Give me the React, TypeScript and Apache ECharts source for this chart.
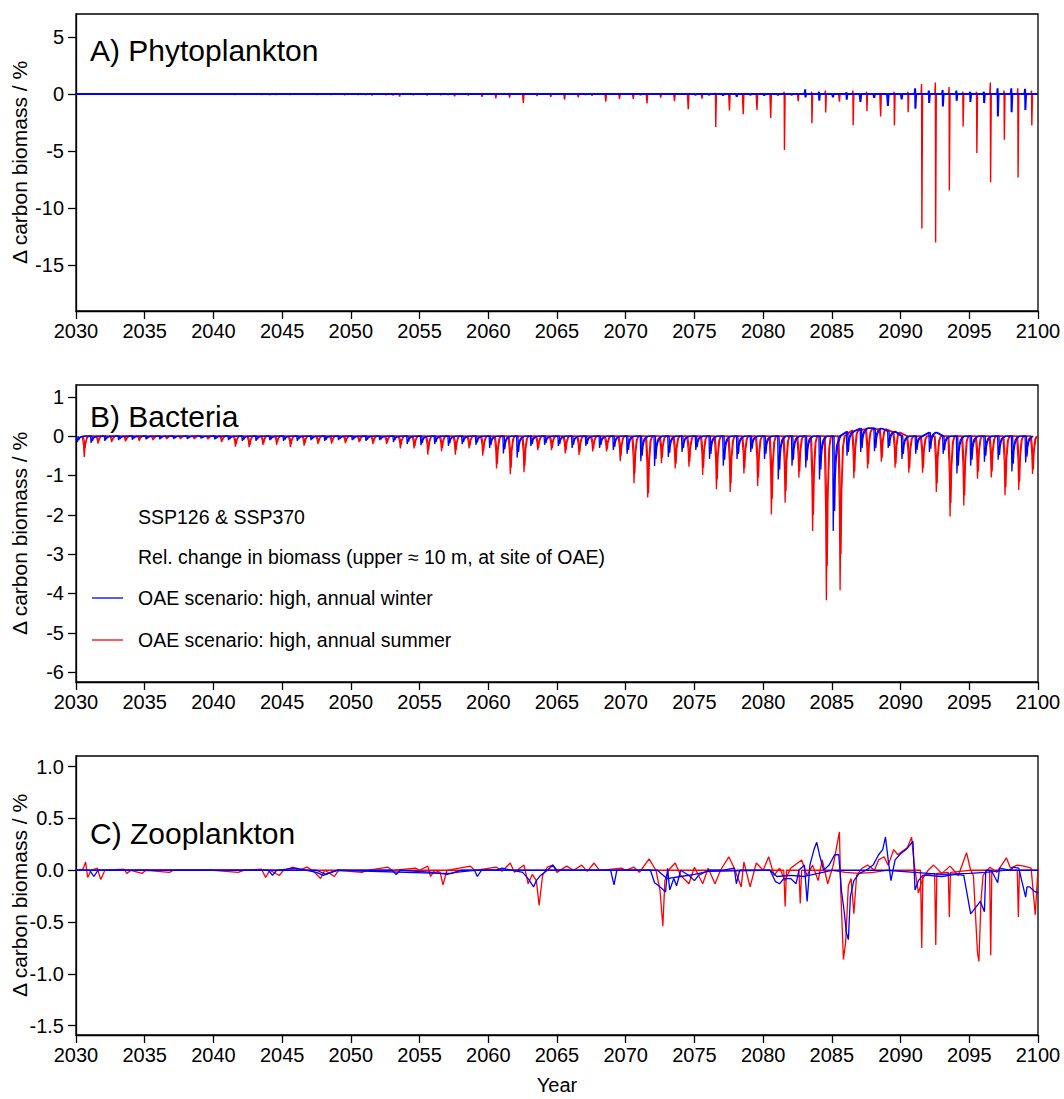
import React, { useEffect, useRef } from "react";
import * as echarts from "echarts";

const FONT = "'Liberation Sans', Arial, Helvetica, sans-serif";
const RED = "#ff0000";
const BLUE = "#0000ff";

// years with one OAE pulse each
const YEARS: number[] = [];
for (let y = 2030; y < 2100; y++) YEARS.push(y);

const X_TICKS_MIN = 2030;
const X_TICKS_MAX = 2100;

// ---------- A) Phytoplankton: annual spike minima / maxima (%) ----------
const A_RED_DIPS = [
  -0.05, -0.03, -0.04, -0.03, -0.05, -0.04, -0.03, -0.05, -0.04, -0.03,
  -0.05, -0.06, -0.05, -0.07, -0.08, -0.06, -0.05, -0.08, -0.07, -0.1,
  -0.08, -0.12, -0.1, -0.23, -0.1, -0.12, -0.1, -0.2, -0.12, -0.26,
  -0.38, -0.32, -0.78, -0.17, -0.26, -0.5, -0.29, -0.15, -0.67, -0.44,
  -0.44, -0.84, -0.32, -0.64, -1.34, -0.4, -2.9, -1.45, -1.77, -1.4,
  -2.1, -4.9, -0.64, -2.56, -1.63, -0.67, -2.73, -1.5, -1.98, -2.76,
  -1.6, -11.77, -13.0, -8.46, -2.85, -5.17, -7.73, -4.0, -7.32, -2.76,
];
const A_RED_PEAKS = [
  0, 0, 0, 0, 0, 0, 0, 0, 0, 0,
  0, 0, 0, 0, 0, 0, 0, 0, 0, 0,
  0, 0, 0, 0, 0, 0, 0, 0, 0, 0,
  0, 0, 0, 0, 0, 0, 0, 0, 0, 0,
  0, 0, 0, 0, 0, 0, 0.1, 0, 0, 0,
  0, 0.2, 0, 0.2, 0.3, 0, 0.3, 0.2, 0, 0.2,
  0.2, 0.87, 1.0, 0.6, 0.2, 0.2, 1.0, 0.3, 0.5, 0.3,
];
const A_BLUE_DIPS = [
  0, 0, 0, 0, 0, 0, 0, 0, 0, 0,
  0, 0, 0, 0, -0.05, 0, 0, 0, 0, 0,
  0, -0.05, 0, -0.08, 0, 0, 0, -0.05, 0, 0,
  0, 0, 0, 0, 0, 0, 0, -0.05, 0, 0,
  0, -0.08, 0, 0, 0, -0.1, -0.1, -0.15, -0.25, -0.1,
  -0.15, -0.12, -0.1, -0.3, -0.58, -0.3, -0.5, -0.7, -0.33, -1.05,
  -0.47, -1.3, -0.78, -1.1, -0.6, -0.7, -0.8, -1.98, -1.6, -1.4,
];
const A_BLUE_PEAKS = [
  0, 0, 0, 0, 0, 0, 0, 0, 0, 0,
  0, 0, 0, 0, 0, 0, 0, 0, 0, 0,
  0, 0, 0, 0, 0, 0, 0, 0, 0, 0,
  0, 0, 0, 0, 0, 0, 0, 0, 0, 0,
  0, 0, 0, 0, 0, 0, 0, 0, 0, 0,
  0, 0, 0, 0.4, 0.2, 0, 0.15, 0, 0, 0,
  0, 0.5, 0.3, 0.35, 0.3, 0.2, 0.2, 0.5, 0.5, 0.45,
];

// ---------- B) Bacteria: annual dip minima (%) ----------
const B_RED_1 = [
  -0.53, -0.19, -0.15, -0.13, -0.12, -0.1, -0.07, -0.07, -0.07, -0.08,
  -0.15, -0.27, -0.28, -0.22, -0.22, -0.28, -0.24, -0.2, -0.19, -0.18,
  -0.15, -0.2, -0.2, -0.31, -0.31, -0.47, -0.38, -0.47, -0.31, -0.5,
  -0.82, -0.97, -0.92, -0.36, -0.36, -0.44, -0.48, -0.39, -0.39, -0.64,
  -1.2, -1.56, -0.69, -0.82, -0.78, -0.99, -1.35, -1.42, -0.95, -1.27,
  -1.99, -1.69, -1.06, -2.41, -4.17, -3.92, -1.07, -0.82, -0.65, -0.8,
  -0.93, -0.93, -1.42, -2.04, -1.76, -1.08, -1.05, -1.5, -1.37, -0.96,
];
const B_RED_2 = [
  -0.3, -0.12, -0.1, -0.1, -0.08, -0.07, -0.06, -0.05, -0.06, -0.06,
  -0.1, -0.2, -0.22, -0.18, -0.15, -0.2, -0.18, -0.15, -0.14, -0.13,
  -0.12, -0.15, -0.16, -0.22, -0.25, -0.35, -0.3, -0.35, -0.25, -0.38,
  -0.7, -0.8, -0.75, -0.3, -0.3, -0.35, -0.4, -0.32, -0.33, -0.5,
  -0.95, -1.45, -0.55, -0.7, -0.65, -0.8, -1.1, -1.2, -0.8, -1.05,
  -1.6, -1.4, -0.9, -2.0, -3.3, -3.0, -0.9, -0.7, -0.55, -0.7,
  -0.8, -0.8, -1.2, -1.7, -1.5, -0.9, -0.9, -1.3, -1.15, -0.85,
];
const B_BLUE_1 = [
  -0.15, -0.17, -0.12, -0.1, -0.09, -0.08, -0.08, -0.07, -0.07, -0.06,
  -0.08, -0.1, -0.12, -0.12, -0.1, -0.12, -0.12, -0.1, -0.12, -0.1,
  -0.1, -0.12, -0.1, -0.15, -0.2, -0.23, -0.2, -0.25, -0.2, -0.22,
  -0.3, -0.44, -0.55, -0.25, -0.22, -0.25, -0.3, -0.25, -0.3, -0.35,
  -0.45, -0.64, -0.76, -0.53, -0.4, -0.35, -0.58, -0.75, -0.58, -0.4,
  -0.58, -1.1, -0.75, -0.8, -1.1, -2.41, -0.5, -0.4, -0.38, -0.3,
  -0.58, -0.45, -0.4, -0.45, -0.95, -0.75, -0.65, -0.6, -0.9, -0.67,
];
const B_BLUE_2 = [
  -0.1, -0.12, -0.08, -0.07, -0.06, -0.06, -0.05, -0.05, -0.05, -0.04,
  -0.06, -0.07, -0.09, -0.08, -0.08, -0.09, -0.08, -0.07, -0.09, -0.07,
  -0.08, -0.09, -0.08, -0.1, -0.14, -0.17, -0.15, -0.18, -0.15, -0.16,
  -0.22, -0.33, -0.4, -0.2, -0.17, -0.2, -0.22, -0.2, -0.22, -0.27,
  -0.35, -0.5, -0.58, -0.42, -0.3, -0.28, -0.45, -0.6, -0.45, -0.32,
  -0.45, -0.85, -0.6, -0.62, -0.85, -1.9, -0.4, -0.3, -0.3, -0.25,
  -0.45, -0.35, -0.32, -0.36, -0.75, -0.6, -0.5, -0.48, -0.7, -0.52,
];
// raised background level in some years (%)
const B_RED_BASE: Record<number, number> = { 2086: 0.15, 2087: 0.18, 2088: 0.18, 2089: 0.1 };
const B_BLUE_BASE: Record<number, number> = { 2086: 0.12, 2087: 0.2, 2088: 0.2, 2089: 0.12, 2092: 0.1 };

// dip profile: [time offset in years, fraction of the dip]
const RED_DIP_PROFILE = [[-0.15, 0], [-0.05, 0.45], [0, 1], [0.06, 0.45], [0.18, 0.08], [0.3, 0]];
const BLUE_DIP_PROFILE = [[-0.04, 0], [0, 1], [0.05, 0.55], [0.12, 0.3], [0.25, 0.1], [0.45, 0]];

// ---------- C) Zooplankton: [year, %] ----------
const C_RED_A: number[][] = [
  [2030.0, 0.0], [2030.5, 0.01], [2030.7, 0.08], [2030.85, -0.07], [2031.1, 0.0], [2031.55, 0.02], [2031.8, -0.09], [2032.1, 0.0],
  [2033.5, 0.01], [2033.7, -0.03], [2034.0, 0.0], [2034.8, -0.03], [2035.1, 0.0], [2036.8, -0.02], [2037.1, 0.0], [2040.0, 0.0],
  [2041.8, -0.02], [2042.2, 0.0], [2043.5, 0.01], [2043.8, -0.07], [2044.1, 0.0], [2044.8, -0.05], [2045.1, 0.0], [2045.8, 0.03],
  [2046.2, 0.0], [2046.8, 0.03], [2047.2, 0.0], [2047.8, -0.08], [2048.1, 0.0], [2048.8, -0.06], [2049.1, 0.0], [2050.8, -0.02],
  [2051.2, 0.0], [2052.7, 0.03], [2053.0, 0.0], [2054.7, 0.02], [2055.0, 0.0], [2055.6, 0.04], [2055.8, -0.06], [2056.1, 0.0],
  [2056.5, -0.02], [2056.7, -0.14], [2057.0, 0.0], [2058.7, 0.04], [2059.0, 0.0], [2060.6, 0.03], [2061.0, -0.01], [2061.6, 0.07],
  [2061.9, -0.02], [2062.6, 0.05], [2062.9, -0.13], [2063.2, -0.04], [2063.5, -0.1], [2063.7, -0.34], [2063.95, -0.05], [2064.3, 0.03],
  [2064.7, 0.05], [2065.0, -0.02], [2065.7, 0.04], [2066.2, 0.0], [2066.8, 0.05], [2067.2, -0.01], [2067.7, 0.07], [2068.1, 0.0],
  [2069.7, 0.02], [2070.0, 0.0], [2070.6, 0.03], [2071.0, -0.02], [2071.7, 0.11], [2072.2, 0.0], [2072.5, -0.2], [2072.7, -0.54],
  [2072.85, -0.1], [2073.1, 0.0], [2073.6, 0.07], [2074.0, -0.05], [2074.6, -0.13], [2075.0, 0.03], [2075.6, -0.13], [2076.0, 0.02],
  [2076.5, -0.13], [2076.9, 0.0], [2077.5, 0.13], [2077.9, 0.02], [2078.4, -0.16], [2078.6, 0.08], [2079.05, -0.16], [2079.5, 0.07],
  [2080.0, 0.0], [2080.4, 0.13], [2080.8, -0.05], [2081.2, 0.02], [2081.6, -0.1], [2082.0, 0.02], [2082.8, 0.1], [2083.2, -0.05],
  [2083.6, 0.05], [2084.0, -0.1], [2084.3, 0.1], [2084.7, -0.13], [2085.1, 0.05], [2085.55, 0.37], [2085.65, -0.2], [2085.84, -0.86],
  [2086.0, -0.7], [2086.2, -0.15], [2086.4, -0.08], [2086.6, -0.42], [2086.8, -0.05], [2087.2, 0.02], [2087.6, 0.05], [2088.1, 0.0],
  [2088.4, 0.1], [2088.8, 0.13], [2089.1, 0.05], [2089.5, 0.2], [2089.8, 0.15], [2090.1, 0.18], [2090.5, 0.22], [2090.8, 0.32],
  [2091.0, 0.05], [2091.3, -0.22], [2091.6, -0.08], [2092.0, 0.0], [2092.4, 0.05], [2093.0, -0.03], [2093.6, 0.04], [2094.2, -0.05],
  [2094.8, 0.17], [2095.1, 0.0], [2095.3, -0.05], [2095.6, -0.8], [2095.7, -0.88], [2095.85, -0.3], [2096.0, -0.05], [2096.5, 0.03],
  [2097.0, -0.02], [2097.7, 0.12], [2098.0, 0.02], [2098.5, 0.05], [2099.0, 0.04], [2099.5, 0.02], [2099.8, -0.43], [2100.0, 0.02],
];
const C_RED_B: number[][] = [
  [2030.0, 0.0], [2050.0, 0.0], [2065.0, 0.0], [2079.0, 0.0], [2081.5, 0.0], [2081.6, -0.35], [2081.7, 0.0], [2082.6, 0.0],
  [2082.7, -0.32], [2082.8, 0.0], [2085.0, 0.0], [2086.0, -0.02], [2087.0, -0.03], [2088.0, -0.02], [2089.0, 0.0], [2091.45, 0.0],
  [2091.54, -0.75], [2091.62, -0.05], [2092.48, -0.03], [2092.56, -0.72], [2092.64, -0.03], [2093.47, -0.02], [2093.55, -0.45],
  [2093.63, -0.02], [2095.0, 0.0], [2096.48, 0.0], [2096.56, -0.82], [2096.64, 0.0], [2098.49, 0.0], [2098.57, -0.45],
  [2098.65, 0.0], [2100.0, 0.0],
];
const C_BLUE_A: number[][] = [
  [2030.0, 0.0], [2031.0, 0.0], [2031.3, -0.06], [2031.6, 0.0], [2044.0, 0.0], [2044.3, -0.05], [2044.6, 0.0], [2046.0, 0.02],
  [2047.5, -0.02], [2048.0, -0.05], [2048.5, -0.02], [2049.0, 0.0], [2053.0, 0.0], [2053.3, -0.04], [2053.6, 0.0], [2056.0, -0.02],
  [2057.0, -0.04], [2057.6, -0.02], [2059.0, 0.0], [2059.2, -0.06], [2059.5, 0.0], [2060.5, 0.0], [2061.0, 0.02], [2062.5, -0.02],
  [2062.9, -0.08], [2063.3, -0.16], [2063.5, -0.1], [2063.8, -0.05], [2064.3, 0.0], [2064.7, 0.05], [2065.0, 0.0], [2068.9, 0.0],
  [2069.15, -0.14], [2069.35, 0.0], [2071.8, 0.0], [2072.1, -0.12], [2072.5, -0.16], [2072.9, -0.21], [2073.05, 0.02], [2073.2, -0.19],
  [2073.5, -0.08], [2073.7, -0.15], [2074.0, 0.0], [2074.6, -0.05], [2075.0, -0.1], [2075.3, -0.05], [2076.0, 0.0], [2077.0, 0.0],
  [2077.9, 0.02], [2078.05, -0.13], [2078.3, 0.0], [2079.5, 0.0], [2080.5, 0.0], [2080.9, -0.11], [2081.2, -0.13], [2081.5, -0.08],
  [2082.0, -0.08], [2082.4, -0.13], [2082.6, 0.0], [2083.0, 0.05], [2083.2, -0.3], [2083.4, 0.05], [2083.7, 0.2], [2083.9, 0.27],
  [2084.1, 0.15], [2084.4, 0.0], [2084.8, 0.05], [2085.2, 0.15], [2085.5, 0.15], [2085.7, -0.2], [2085.9, -0.4], [2086.05, -0.6],
  [2086.2, -0.67], [2086.35, -0.25], [2086.6, -0.1], [2087.0, -0.03], [2087.5, 0.0], [2088.0, 0.05], [2088.4, 0.15], [2088.7, 0.2],
  [2088.9, 0.32], [2089.1, 0.1], [2089.3, -0.1], [2089.6, 0.1], [2090.0, 0.16], [2090.4, 0.2], [2090.9, 0.28], [2091.05, -0.19],
  [2091.3, -0.1], [2091.6, -0.05], [2092.0, -0.05], [2093.0, -0.06], [2094.0, -0.04], [2094.6, -0.05], [2095.1, -0.42], [2095.4, -0.37],
  [2095.8, -0.3], [2096.1, -0.4], [2096.2, 0.0], [2096.6, 0.0], [2097.07, -0.12], [2097.2, 0.02], [2098.0, 0.0], [2098.2, 0.03],
  [2098.6, 0.02], [2099.1, -0.26], [2099.2, -0.16], [2099.4, -0.16], [2099.7, -0.2], [2100.0, -0.22],
];
const C_BLUE_B: number[][] = [
  [2030.0, 0.0], [2047.5, 0.0], [2048.2, -0.04], [2049.0, 0.0], [2056.5, -0.03], [2057.3, -0.03], [2058.0, 0.0], [2072.3, 0.0],
  [2073.0, -0.08], [2074.0, -0.06], [2075.0, -0.04], [2076.0, -0.01], [2080.5, 0.0], [2081.0, -0.06], [2082.0, -0.05],
  [2083.0, -0.06], [2084.0, -0.03], [2085.0, 0.0], [2087.0, 0.0], [2089.0, 0.0], [2091.0, -0.02], [2093.0, -0.04],
  [2095.0, -0.03], [2096.2, -0.02], [2097.5, 0.0], [2099.0, 0.0], [2100.0, 0.0],
];

// ---------- axis ticks ----------
const A_Y_TICKS = [-15, -10, -5, 0, 5];
const B_Y_TICKS = [-6, -5, -4, -3, -2, -1, 0, 1];
const C_Y_TICKS = [-1.5, -1.0, -0.5, 0.0, 0.5, 1.0];

// ---------- builders ----------
function spikeSeries(dips: number[], peaks: number[], offset: number) {
  const pts: number[][] = [[2030, 0]];
  YEARS.forEach((yr, i) => {
    const t = yr + offset;
    pts.push([t - 0.06, 0]);
    if (peaks[i]) pts.push([t - 0.02, peaks[i]]);
    pts.push([t, dips[i]]);
    pts.push([t + 0.05, 0]);
  });
  pts.push([2100, 0]);
  return pts;
}

function dipSeries(mins: number[], offset: number, profile: number[][], base: Record<number, number>) {
  const pts: number[][] = [];
  YEARS.forEach((yr, i) => {
    const b = base[yr] ?? 0;
    profile.forEach(([dt, f]) => {
      pts.push([yr + offset + dt, b + f * (mins[i] - b)]);
    });
  });
  return pts;
}

function line(data: number[][], color: string, idx: number, width = 1.3) {
  return {
    type: "line",
    xAxisIndex: idx,
    yAxisIndex: idx,
    data,
    showSymbol: false,
    symbol: "none",
    lineStyle: { color, width },
    itemStyle: { color },
    emphasis: { disabled: true },
    silent: true,
  };
}

const GRIDS = [
  { top: 14, height: 297 },
  { top: 385, height: 297 },
  { top: 756, height: 279 },
];

export default function App() {
  const ref = useRef<HTMLDivElement>(null);
  useEffect(() => {
    if (!ref.current) return;
    const chart = echarts.init(ref.current, undefined, { renderer: "svg" });

    const xAxis = GRIDS.map((_, i) => ({
      type: "value",
      gridIndex: i,
      min: X_TICKS_MIN,
      max: X_TICKS_MAX,
      interval: 5,
      axisLine: { show: true, onZero: false, lineStyle: { color: "#000", width: 1.3 } },
      axisTick: { show: true, inside: false, length: 8, lineStyle: { color: "#000", width: 1.3 } },
      axisLabel: {
        fontSize: 20,
        color: "#000",
        fontFamily: FONT,
        margin: 10,
        showMinLabel: true,
        showMaxLabel: true,
        formatter: (v: number) => String(v),
      },
      splitLine: { show: false },
      ...(i === 2
        ? {
            name: "Year",
            nameLocation: "middle",
            nameGap: 40,
            nameMoveOverlap: false,
            nameTextStyle: { fontSize: 20, color: "#000", fontFamily: FONT },
          }
        : {}),
    }));

    const yDefs = [
      { min: -19, max: 7, ticks: A_Y_TICKS, fmt: (v: number) => String(v) },
      { min: -6.25, max: 1.3, ticks: B_Y_TICKS, fmt: (v: number) => String(v) },
      { min: -1.59, max: 1.103, ticks: C_Y_TICKS, fmt: (v: number) => v.toFixed(1) },
    ];
    const yAxis = yDefs.map((d, i) => ({
      type: "value",
      gridIndex: i,
      min: d.min,
      max: d.max,
      axisLine: { show: true, onZero: false, lineStyle: { color: "#000", width: 1.3 } },
      axisTick: { show: true, inside: false, length: 8, customValues: d.ticks, lineStyle: { color: "#000", width: 1.3 } },
      axisLabel: {
        customValues: d.ticks,
        formatter: d.fmt,
        fontSize: 20,
        color: "#000",
        fontFamily: FONT,
        margin: 12,
      },
      splitLine: { show: false },
      name: "\u0394 carbon biomass / %",
      nameLocation: "middle",
      nameRotate: 90,
      nameGap: 46,
      nameMoveOverlap: false,
      nameTextStyle: { fontSize: 21, color: "#000", fontFamily: FONT },
    }));

    const series = [
      line(spikeSeries(A_RED_DIPS, A_RED_PEAKS, 0.55), RED, 0, 1.4),
      line(spikeSeries(A_BLUE_DIPS, A_BLUE_PEAKS, 0.08), BLUE, 0, 2),
      line(dipSeries(B_RED_2, 0.66, RED_DIP_PROFILE, B_RED_BASE), RED, 1),
      line(dipSeries(B_RED_1, 0.6, RED_DIP_PROFILE, B_RED_BASE), RED, 1),
      line(dipSeries(B_BLUE_2, 0.2, BLUE_DIP_PROFILE, B_BLUE_BASE), BLUE, 1),
      line(dipSeries(B_BLUE_1, 0.1, BLUE_DIP_PROFILE, B_BLUE_BASE), BLUE, 1),
      line(C_RED_B, RED, 2),
      line(C_RED_A, RED, 2),
      line(C_BLUE_B, BLUE, 2),
      line(C_BLUE_A, BLUE, 2),
    ];

    const titleStyle = { fontSize: 30, fill: "#000", fontFamily: FONT, verticalAlign: "middle" };
    const legendText = { fontSize: 19.5, fill: "#000", fontFamily: FONT, verticalAlign: "middle" };

    chart.setOption({
      animation: false,
      backgroundColor: "#fff",
      grid: GRIDS.map((g) => ({
        left: 76,
        width: 962,
        top: g.top,
        height: g.height,
        show: true,
        borderColor: "#000",
        borderWidth: 1.3,
        backgroundColor: "transparent",
        containLabel: false,
        outerBoundsMode: "none",
      })),
      xAxis,
      yAxis,
      series,
      graphic: [
        { type: "text", x: 90, y: 50, style: { ...titleStyle, text: "A) Phytoplankton" }, silent: true, z: 10 },
        { type: "text", x: 90, y: 416, style: { ...titleStyle, text: "B) Bacteria" }, silent: true, z: 10 },
        { type: "text", x: 90, y: 833, style: { ...titleStyle, text: "C) Zooplankton" }, silent: true, z: 10 },
        { type: "text", x: 138, y: 517, style: { ...legendText, text: "SSP126 & SSP370" }, silent: true },
        {
          type: "text",
          x: 138,
          y: 557,
          style: { ...legendText, text: "Rel. change in biomass (upper \u2248 10 m, at site of OAE)" },
          silent: true,
        },
        { type: "line", shape: { x1: 92, y1: 598, x2: 123, y2: 598 }, style: { stroke: BLUE, lineWidth: 1.3 }, silent: true },
        { type: "text", x: 138, y: 598, style: { ...legendText, text: "OAE scenario: high, annual winter" }, silent: true },
        { type: "line", shape: { x1: 92, y1: 640, x2: 123, y2: 640 }, style: { stroke: RED, lineWidth: 1.3 }, silent: true },
        { type: "text", x: 138, y: 640, style: { ...legendText, text: "OAE scenario: high, annual summer" }, silent: true },
      ],
    });
    return () => chart.dispose();
  }, []);

  return (
    <div
      ref={ref}
      style={{ position: "absolute", left: 0, top: 0, width: 1064, height: 1099, background: "#fff" }}
    />
  );
}
